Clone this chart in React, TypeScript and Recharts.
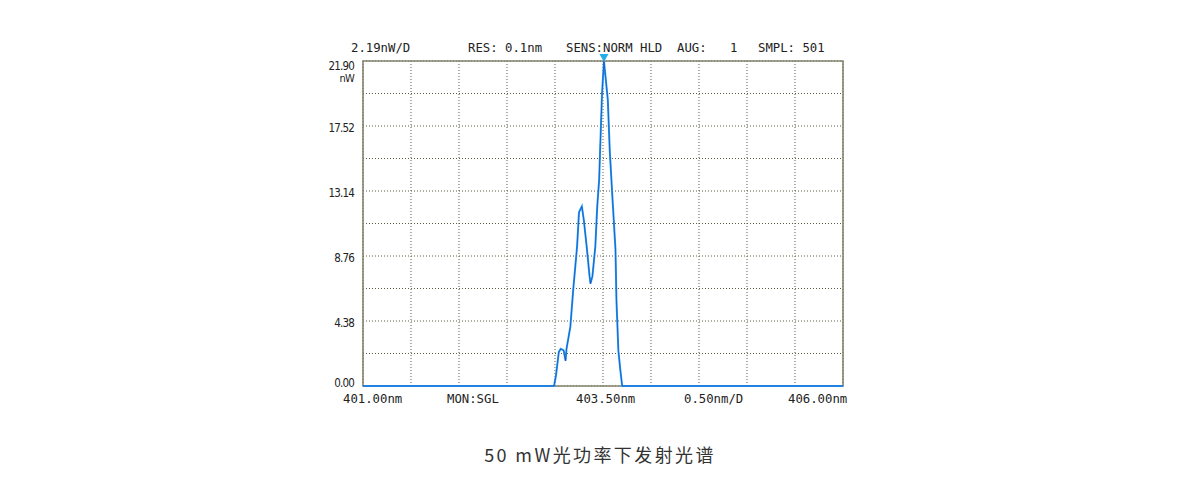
import React from "react";
import {
  LineChart,
  Line,
  XAxis,
  YAxis,
  CartesianGrid,
  ReferenceArea,
  ReferenceDot,
} from "recharts";

// Wavelength (nm) and optical power (nW)
const wavelengths = [
  401.0, 402.99, 403.01, 403.04, 403.06, 403.09, 403.11, 403.12, 403.16, 403.19,
  403.23, 403.25, 403.28, 403.3, 403.33, 403.36, 403.37, 403.39, 403.42, 403.44,
  403.46, 403.47, 403.49, 403.51, 403.53, 403.55, 403.57, 403.6, 403.63, 403.64,
  403.66, 403.68, 403.7, 406.0,
];
const power = [
  0, 0, 0.7, 2.3, 2.5, 2.4, 1.7, 2.5, 4.0, 6.5,
  9.4, 11.7, 12.1, 11.2, 9.4, 7.4, 6.9, 7.4, 9.4, 12.1,
  13.9, 15.9, 19.7, 21.9, 20.6, 19.3, 15.9, 12.5, 9.2, 5.8,
  2.4, 1.1, 0, 0,
];

const xTicks = [401, 401.5, 402, 402.5, 403, 403.5, 404, 404.5, 405, 405.5, 406];
const yTicks = [0, 2.19, 4.38, 6.57, 8.76, 10.95, 13.14, 15.33, 17.52, 19.71, 21.9];
const yLabels = ["0.00", "", "4.38", "", "8.76", "", "13.14", "", "17.52", "", "21.90"];
const yUnit = "nW";

const peakWavelength = 403.51;
const peakPower = 21.9;

const headerTexts = ["2.19nW/D", "RES: 0.1nm", "SENS:NORM HLD", "AUG:", "1", "SMPL: 501"];
const footerTexts = ["401.00nm", "MON:SGL", "403.50nm", "0.50nm/D", "406.00nm"];
const caption = "50 mW光功率下发射光谱";

const data = wavelengths.map((w, i) => ({ w, p: power[i] }));

const headerX = [351, 468, 566, 677, 730, 758];
const footerX = [343, 447, 576, 684, 788];

const monoFont = '"DejaVu Sans Mono", "Liberation Mono", monospace';
const narrowFont = '"DejaVu Sans Condensed", "DejaVu Sans", sans-serif';

const renderYTick = (props: any) => {
  const { x, y, index } = props;
  const label = yLabels[index];
  if (!label) return <g />;
  const isTop = index === yLabels.length - 1;
  const isBottom = index === 0;
  const ty = isBottom ? y - 3 : isTop ? y + 5 : y + 2;
  return (
    <g>
      <text
        x={x - 1}
        y={ty}
        textAnchor="end"
        dominantBaseline="middle"
        fontFamily={narrowFont}
        fontSize={11.5}
        fill="#222"
        style={{ letterSpacing: "-0.8px" }}
      >
        {label}
      </text>
      {isTop && (
        <text
          x={x - 1}
          y={ty + 13}
          textAnchor="end"
          dominantBaseline="middle"
          fontFamily={narrowFont}
          fontSize={11}
          fill="#222"
          style={{ letterSpacing: "-0.8px" }}
        >
          {yUnit}
        </text>
      )}
    </g>
  );
};

const renderEmptyTick = () => <g />;

const PeakMarker = (props: any) => {
  const { cx, cy } = props;
  return (
    <polygon
      points={`${cx - 4.5},${cy - 7} ${cx + 4.5},${cy - 7} ${cx},${cy + 1}`}
      fill="#22aee8"
    />
  );
};

export default function App() {
  return (
    <div
      style={{
        position: "absolute",
        left: 0,
        top: 0,
        width: 1200,
        height: 498,
        background: "#fff",
      }}
    >
      <LineChart
        width={1200}
        height={498}
        data={data}
        margin={{ top: 61, right: 357, bottom: 111, left: 362 }}
      >
        <CartesianGrid
          stroke="#5f5a40"
          strokeDasharray="1 2"
          strokeWidth={1}
        />
        <XAxis
          dataKey="w"
          type="number"
          domain={[401, 406]}
          ticks={xTicks}
          tick={renderEmptyTick}
          tickLine={false}
          axisLine={false}
          height={1}
          interval={0}
        />
        <YAxis
          type="number"
          domain={[0, 21.9]}
          ticks={yTicks}
          tick={renderYTick}
          tickLine={false}
          axisLine={false}
          width={1}
          interval={0}
        />
        <ReferenceArea
          x1={401}
          x2={406}
          y1={0}
          y2={21.9}
          fill="none"
          stroke="#84846e"
          strokeWidth={1.6}
          ifOverflow="visible"
        />
        <Line
          type="linear"
          dataKey="p"
          stroke="#22a6f2"
          strokeWidth={2}
          dot={false}
          isAnimationActive={false}
        />
        <Line
          type="linear"
          dataKey="p"
          stroke="#2428b0"
          strokeWidth={0.8}
          strokeOpacity={0.7}
          dot={false}
          isAnimationActive={false}
        />
        <ReferenceDot
          x={peakWavelength}
          y={peakPower}
          r={0}
          ifOverflow="visible"
          shape={<PeakMarker />}
        />
      </LineChart>
      {headerTexts.map((t, i) => (
        <div
          key={"h" + i}
          style={{
            position: "absolute",
            left: headerX[i],
            top: 40,
            fontFamily: monoFont,
            fontSize: 12.3,
            color: "#222",
            whiteSpace: "pre",
            lineHeight: "16px",
          }}
        >
          {t}
        </div>
      ))}
      {footerTexts.map((t, i) => (
        <div
          key={"f" + i}
          style={{
            position: "absolute",
            left: footerX[i],
            top: 391,
            fontFamily: monoFont,
            fontSize: 12.3,
            color: "#222",
            whiteSpace: "pre",
            lineHeight: "16px",
          }}
        >
          {t}
        </div>
      ))}
      <div
        style={{
          position: "absolute",
          left: 0,
          width: 1200,
          top: 441,
          textAlign: "center",
          fontFamily: '"Noto Sans CJK SC", "Noto Sans", sans-serif',
          fontSize: 18,
          letterSpacing: 2.4,
          color: "#333",
          lineHeight: "26px",
        }}
      >
        {caption}
      </div>
    </div>
  );
}
